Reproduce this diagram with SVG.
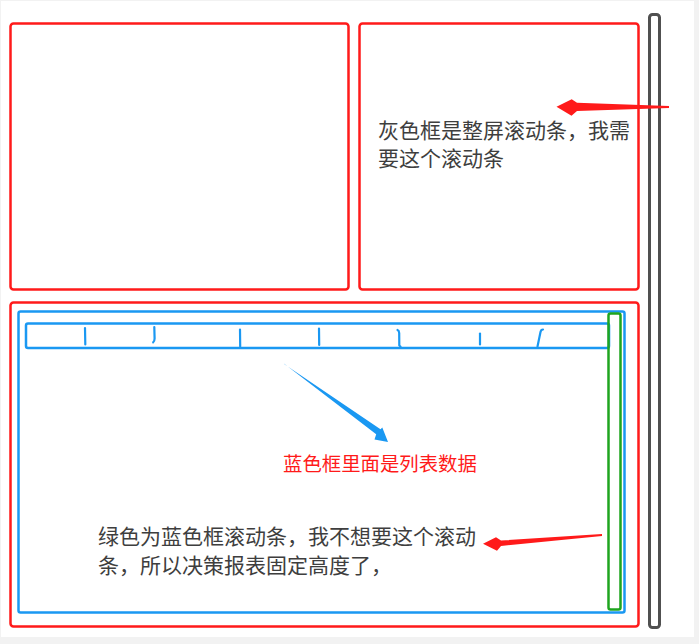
<svg xmlns="http://www.w3.org/2000/svg" width="699" height="644" viewBox="0 0 699 644">
<style>
.red{fill:none;stroke:#ff1a1a;stroke-width:2.5}
.blue{fill:none;stroke:#1a98f2;stroke-width:2.5}
.green{fill:none;stroke:#1fa51f;stroke-width:2.5}
.tick{fill:none;stroke:#1a98f2;stroke-width:2.2;stroke-linecap:round;stroke-linejoin:round}
.note{font-family:"Noto Sans CJK SC","Noto Sans",sans-serif;font-size:21px;fill:#3e3e3e}
.rednote{font-family:"Noto Sans CJK SC","Noto Sans",sans-serif;font-size:19.4px;fill:#ff1a1a}
</style>
<rect x="0" y="0" width="699" height="644" fill="#f2f2f2"/>
<rect x="1" y="1" width="693" height="636" fill="#ffffff"/>
<g id="panel-top-left"><rect class="red" x="10.5" y="23.5" width="338" height="266" rx="3"/></g>
<g id="panel-top-right"><rect class="red" x="359.5" y="23.5" width="279" height="266" rx="3"/>
<text class="note" x="378" y="138">灰色框是整屏滚动条，我需</text>
<text class="note" x="378" y="166">要这个滚动条</text></g>
<g id="page-scrollbar"><rect x="649.5" y="14.5" width="10" height="613" rx="3" fill="#ffffff" stroke="#505050" stroke-width="3"/></g>
<g id="panel-bottom"><rect class="red" x="10.5" y="302.5" width="628" height="324" rx="3"/></g>
<g id="blue-box"><rect class="blue" x="18.5" y="311.5" width="606" height="301" rx="2"/>
<text class="rednote" x="283" y="471">蓝色框里面是列表数据</text>
<text class="note" x="98" y="543.5">绿色为蓝色框滚动条，我不想要这个滚动</text>
<text class="note" x="98" y="572.5">条，所以决策报表固定高度了，</text></g>
<g id="header-row"><rect class="blue" x="26" y="323.5" width="583" height="24.5" rx="2"/>
<path class="tick" d="M85 328L85.3 344.5"/>
<path class="tick" d="M154.3 327L154.6 338.5Q154.5 341.5 153.2 342.3"/>
<path class="tick" d="M240 329.5L240.2 346.5"/>
<path class="tick" d="M319 328.5L319.2 345"/>
<path class="tick" d="M397.5 330Q399 330.5 399.2 333L399.3 345.5L400.5 346.5"/>
<path class="tick" d="M480 333.5L480 344.5"/>
<path class="tick" d="M543 329.5Q541 329.5 540.5 332L537.5 346.5"/>
</g>
<g id="green-scrollbar"><rect class="green" x="608.5" y="313.5" width="12" height="296" rx="2"/></g>
<g id="connectors">
<polygon fill="#ff1a1a" points="669,106 669,108 577,111 571.5,115.7 556.5,106.8 571.7,99.3 577,102.7"/>
<polygon fill="#ff1a1a" points="602,534 602,536 501,546 497,550.7 483,543.7 496,537.3 501,540.5"/>
<polygon fill="#1a98f2" points="283.5,363.3 284.8,364.5 380.5,429.3 382.3,427.5 388,442 374.5,439.5 376.2,434.3"/>
</g>
</svg>
